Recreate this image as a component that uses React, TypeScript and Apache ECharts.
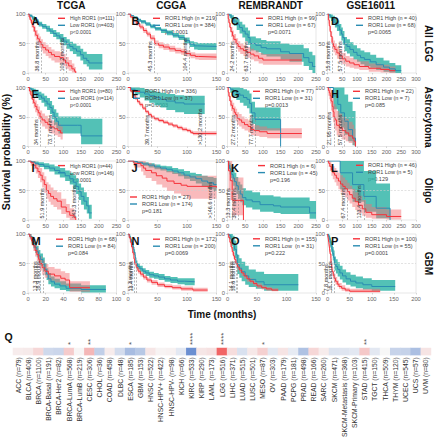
import { useEffect, useRef } from "react";
import * as echarts from "echarts";

type Pt = [number, number, number, number]; // time, survival %, lower CI, upper CI

const FONT = "'Liberation Sans', Arial, Helvetica, sans-serif";

const columnTitles = ["TCGA", "CGGA", "REMBRANDT", "GSE16011"];
const rowTitles = ["All LGG", "Astrocytoma", "Oligo", "GBM"];
const panelLetters = ["A", "B", "C", "D", "E", "F", "G", "H", "I", "J", "K", "L", "M", "N", "O", "P"];
const xMaxes = [250, 150, 250, 300, 250, 150, 250, 300, 250, 150, 250, 300, 100, 150, 150, 200];
const xIntervals = [50, 50, 50, 50, 50, 50, 50, 50, 50, 50, 50, 50, 20, 50, 50, 50];

const highNames = [
  "High ROR1 (n=111)", "ROR1 High (n = 219)", "ROR1 High (n = 99)", "ROR1 High (n = 40)",
  "High ROR1 (n=80)", "ROR1 High (n = 336)", "ROR1 High (n = 77)", "ROR1 High (n = 22)",
  "High ROR1 (n=44)", "ROR1 High (n = 27)", "ROR1 High (n = 6)", "ROR1 High (n = 46)",
  "ROR1 High (n = 68)", "ROR1 High (n = 172)", "ROR1 High (n = 155)", "ROR1 High (n = 100)",
];
const lowNames = [
  "Low ROR1 (n=403)", "ROR1 Low (n = 384)", "ROR1 Low (n = 67)", "ROR1 Low (n = 68)",
  "Low ROR1 (n=114)", "ROR1 Low (n = 37)", "ROR1 Low (n = 31)", "ROR1 Low (n = 7)",
  "Low ROR1 (n=146)", "ROR1 Low (n = 174)", "ROR1 Low (n = 45)", "ROR1 Low (n = 5)",
  "ROR1 Low (n = 84)", "ROR1 Low (n = 200)", "ROR1 Low  (n = 31)", "ROR1 Low (n = 55)",
];
const pValues = [
  "p<0.0001", "p=0.0001", "p=0.0071", "p=0.0065",
  "p<0.0001", "p=0.0003", "p=0.0013", "p=0.085",
  "p<0.0001", "p=0.181", "p=0.196", "p=0.129",
  "p=0.084", "p=0.0069", "p=0.222", "p=0.0001",
];
const highMedians = [36.8, 45.3, 24.2, 15.8, 34, 39.7, 27.2, 21.95, 51.9, null, 13.3, 67.4, 13.3, 11.3, 14.1, 7.8];
const highMedianLabels = [
  "36.8 months", "45.3 months", "24.2 months", "15.8 months",
  "34 months", "39.7 months", "27.2 months", "21.95 months",
  "51.9 months", null, "13.3 months", "67.4 months",
  "13.3 months", "11.3 months", "14.1 months", "7.8 months",
];
const lowMedians = [109.2, 104.4, 63.7, 57.5, 73.7, 130.2, 77.7, 57.5, 143.3, 146.6, 30.4, 123.4, 16.9, 13.4, 16.6, 16.1];
const lowMedianLabels = [
  "109.2 months", "104.4 months", "63.7 months", "57.5 months",
  "73.7 months", ">130.2 months", "77.7 months", "57.5 months",
  "143.3 months", ">146.6 months", "30.4 months", "123.4 months",
  "16.9 months", "13.4 months", "16.6 months", "16.1 months",
];

// ---- Kaplan-Meier curves: [time, survival %, lower CI, upper CI] ----
const aHigh: Pt[] = [[0,100,100,100],[3,95,91,99],[6,90,85,95],[10,84,77,90],[14,78,70,85],[18,71,62,79],[22,64,55,73],[27,58,48,67],[32,53,43,62],[36.8,48,38,57],[42,43,33,52],[50,39,29,48],[58,35,25,44],[66,31,21,40],[75,28,18,37],[90,26,16,35],[100,22,12,32],[106,17,7,27],[115,12,4,22],[124,7,1,16],[131,3,0,10],[135,0,0,0]];
const aLow: Pt[] = [[0,100,100,100],[5,97,95,99],[12,93,90,96],[20,88,85,91],[30,83,79,87],[40,79,75,83],[52,75,70,80],[62,71,66,76],[71,67,61,73],[80,63,57,69],[90,59,52,66],[100,54,47,61],[109.2,49,41,57],[118,45,37,53],[127,41,32,50],[137,37,28,46],[148,31,21,41],[156,25,15,36],[166,21,11,32],[172,17,6,32],[210,17,6,32]];
const bHigh: Pt[] = [[0,100,100,100],[4,95,93,97],[9,89,86,92],[14,84,80,87],[20,78,74,82],[26,72,68,76],[32,66,62,70],[38,59,55,64],[45.3,50,46,55],[52,47,42,52],[60,44,39,49],[70,41,36,46],[80,38,33,43],[90,36,31,41],[98,33,28,38],[106,30,25,35],[114,28,23,33],[120,27,22,33],[150,27,22,33]];
const bLow: Pt[] = [[0,100,100,100],[5,97,96,98],[10,94,92,96],[16,90,87,92],[22,87,84,90],[30,83,80,86],[38,79,76,82],[46,75,72,78],[56,72,68,75],[66,68,64,72],[76,64,60,68],[86,60,56,65],[96,55,50,60],[104.4,49,44,54],[112,46,40,52],[118,45,39,51],[150,45,39,51]];
const cHigh: Pt[] = [[0,100,100,100],[2,92,87,97],[4,85,78,91],[7,77,69,84],[10,70,61,78],[14,63,54,72],[18,57,48,66],[24.2,50,41,59],[30,45,36,54],[36,41,32,50],[45,38,29,47],[55,35,26,44],[65,32,23,41],[75,29,20,38],[88,25,16,34],[100,22,14,32],[210,22,14,32]];
const cLow: Pt[] = [[0,100,100,100],[6,97,93,100],[12,92,86,98],[18,88,80,95],[26,82,73,91],[34,77,67,87],[42,71,60,82],[50,66,54,77],[58,60,48,72],[63.7,50,38,62],[80,47,35,59],[95,43,31,56],[110,41,28,54],[150,36,23,50],[175,33,19,48],[215,26,12,42],[230,18,5,36],[240,11,0,30],[248,11,0,30]];
const dHigh: Pt[] = [[0,100,100,100],[3,90,84,96],[6,80,72,88],[9,70,61,79],[12,62,52,71],[15.8,50,40,60],[20,45,35,55],[25,40,30,50],[32,34,24,44],[40,29,19,39],[50,24,15,34],[62,20,11,29],[75,17,9,26],[90,14,7,23],[108,11,5,20],[140,8,2,16],[180,6,1,14],[210,4,0,11],[230,4,0,11]];
const dLow: Pt[] = [[0,100,100,100],[6,97,93,100],[12,94,88,99],[18,91,84,97],[25,85,77,93],[32,80,71,89],[40,73,63,83],[47,66,55,77],[52,60,48,71],[57.5,49,37,61],[66,45,33,57],[76,40,28,52],[88,35,23,47],[100,30,19,42],[112,26,15,38],[125,23,12,35],[145,19,9,31],[165,14,5,26],[190,10,2,21],[210,7,1,17],[230,4,0,13],[250,4,0,13]];
const eHigh: Pt[] = [[0,100,100,100],[4,94,89,99],[8,87,80,94],[12,80,72,88],[16,74,65,83],[20,68,58,78],[25,62,52,72],[29,57,46,68],[34,50,39,61],[40,45,34,56],[48,41,30,52],[56,37,26,48],[64,33,22,44],[74,30,19,41],[84,27,16,38],[92,23,12,34],[98,23,12,34]];
const eLow: Pt[] = [[0,100,100,100],[5,98,95,100],[10,96,92,99],[16,93,88,98],[22,90,84,96],[30,86,79,93],[38,82,74,90],[46,77,68,86],[54,72,62,82],[62,66,55,77],[68,58,46,70],[73.7,50,37,63],[80,43,30,57],[86,36,22,51],[140,36,22,51],[150,18,4,47],[210,18,4,47]];
const fHigh: Pt[] = [[0,100,100,100],[4,94,92,96],[8,88,86,90],[12,82,79,85],[16,76,73,79],[20,71,68,74],[25,65,62,68],[30,59,56,62],[35,54,51,57],[39.7,50,47,53],[45,47,44,50],[52,44,41,47],[60,41,38,44],[68,38,35,41],[76,35,32,38],[84,32,29,35],[92,29,26,32],[100,27,24,30],[106,24,21,27],[110,22,19,26],[150,22,19,26]];
const fLow: Pt[] = [[0,100,100,100],[5,97,92,100],[12,95,88,100],[20,92,83,99],[28,89,78,97],[36,86,74,95],[45,83,70,93],[55,80,66,91],[65,77,62,89],[80,74,58,87],[95,72,55,86],[130,72,55,86]];
const gHigh: Pt[] = [[0,100,100,100],[2,92,86,98],[4,85,77,92],[7,77,68,86],[10,70,60,79],[14,64,54,74],[19,58,47,68],[23,54,43,64],[27.2,48,37,58],[33,45,34,55],[40,41,30,51],[48,37,27,47],[58,34,24,44],[66,29,19,39],[75,27,18,36],[90,25,16,34],[112,22,14,31],[210,22,14,31]];
const gLow: Pt[] = [[0,100,100,100],[8,97,91,100],[16,94,85,100],[25,90,79,100],[35,87,74,99],[45,83,69,97],[55,80,65,95],[62,73,56,90],[68,57,38,76],[77.7,46,27,66],[150,0,0,0]];
const hHigh: Pt[] = [[0,100,100,100],[3,95,86,100],[6,91,80,100],[9,86,73,100],[12,77,61,95],[16,68,50,89],[19,59,41,82],[21.95,50,31,72],[26,45,27,68],[31,36,19,60],[40,32,16,56],[50,27,12,51],[62,23,9,47],[72,18,6,42],[85,14,3,37],[90,9,1,30],[95,0,0,0]];
const hLow: Pt[] = [[0,100,100,100],[20,85.7,63,100],[35,71.4,45,100],[45,57.1,32,100],[57.5,42.9,20,88],[70,28.6,9,76],[85,14.3,2,60],[95,0,0,0]];
const iHigh: Pt[] = [[0,100,100,100],[8,97,92,100],[15,93,86,100],[22,88,79,97],[28,82,71,93],[34,76,64,88],[40,68,55,81],[46,60,46,74],[51.9,50,36,64],[58,45,31,60],[64,40,26,55],[72,36,22,51],[82,32,18,47],[94,22,10,36],[108,14,4,27],[118,8,0,20],[130,4,0,14],[135,0,0,0]];
const iLow: Pt[] = [[0,100,100,100],[10,98,96,100],[20,96,93,99],[30,94,90,98],[45,91,86,96],[60,88,82,94],[75,84,77,91],[90,80,72,88],[105,75,66,84],[118,70,60,80],[128,64,52,76],[136,57,44,70],[143.3,48,34,62],[150,40,26,55],[158,32,18,47],[166,24,11,39],[172,12,2,26],[180,12,2,26]];
const jHigh: Pt[] = [[0,100,100,100],[10,96,89,100],[22,92,82,100],[26,88,76,100],[30,84,71,97],[40,80,66,94],[48,75,60,90],[58,71,55,87],[66,66,49,83],[78,62,45,80],[90,59,41,77],[100,57,36,75],[150,55,30,74]];
const jLow: Pt[] = [[0,100,100,100],[8,99,97,100],[16,97,95,99],[25,95,92,98],[35,93,89,96],[45,90,86,94],[55,88,84,92],[65,86,81,91],[75,83,78,88],[85,80,74,86],[95,76,70,83],[105,73,66,80],[115,70,62,78],[125,66,57,75],[135,63,53,73],[145,60,49,71],[150,60,49,71]];
const kHigh: Pt[] = [[0,100,100,100],[3,83.3,50,100],[8,66.7,34,100],[13.3,33.3,8,72],[45,0,0,0]];
const kLow: Pt[] = [[0,100,100,100],[3,93,86,100],[6,87,77,97],[9,82,71,93],[12,77,65,90],[16,71,58,85],[20,65,52,80],[25,58,44,73],[30.4,50,36,65],[36,44,30,60],[42,38,25,54],[52,34,21,50],[70,31,18,47],[92,26,14,42],[130,24,12,40],[150,22,10,38],[232,12,2,32],[250,12,2,32]];
const lHigh: Pt[] = [[0,100,100,100],[4,96,90,100],[8,91,83,99],[13,85,75,95],[18,80,69,91],[24,76,64,88],[30,71,58,84],[37,66,52,80],[44,61,47,76],[52,57,42,72],[60,53,38,68],[67.4,48,33,63],[75,43,28,58],[84,37,22,53],[94,31,17,47],[105,25,12,41],[118,19,7,34],[130,13,4,27],[150,9,2,22],[200,6,1,18],[250,6,1,18]];
const lLow: Pt[] = [[0,100,100,100],[43,80,52,100],[85,60,31,100],[123.4,40,14,83],[165,20,3,62],[212,0,0,0]];
const mHigh: Pt[] = [[0,100,100,100],[2,95,90,100],[4,88,81,95],[6,80,71,89],[8,72,62,82],[10,65,54,76],[12,57,45,69],[13.3,50,38,62],[16,43,31,55],[19,37,26,49],[23,32,21,44],[30,29,18,41],[37,25,14,37],[42,22,12,34],[47,9,2,20],[70,9,2,20]];
const mLow: Pt[] = [[0,100,100,100],[2,96,92,100],[4,90,84,96],[6,84,76,92],[8,77,68,86],[10,70,60,80],[12,63,53,73],[14,57,46,67],[16.9,49,38,60],[19,40,30,51],[21,32,22,42],[23,24,15,34],[26,19,11,28],[30,15,8,24],[36,12,5,20],[43,8,3,16],[60,6,1,13],[88,6,1,13]];
const nHigh: Pt[] = [[0,100,100,100],[2,94,91,97],[4,86,82,90],[6,78,74,82],[8,68,64,72],[10,58,54,62],[11.3,50,46,54],[14,43,39,47],[17,37,33,41],[21,32,28,36],[26,27,23,31],[32,22,18,26],[40,18,14,22],[50,14,10,18],[62,11,8,15],[75,9,6,13],[90,7,4,11],[110,5,2,9],[135,5,2,9]];
const nLow: Pt[] = [[0,100,100,100],[2,96,93,99],[4,91,87,94],[6,85,81,89],[8,78,73,82],[10,69,64,74],[12,60,55,65],[13.4,50,45,55],[16,45,40,50],[20,41,36,46],[25,37,32,42],[30,34,29,39],[36,31,26,36],[44,29,24,34],[52,27,22,32],[62,24,19,29],[72,22,17,27],[84,20,15,25],[96,19,13,25],[113,19,13,25]];
const oHigh: Pt[] = [[0,100,100,100],[2,94,91,97],[4,86,82,90],[6,78,74,83],[8,70,65,75],[10,63,58,68],[12,57,52,62],[14.1,50,45,55],[17,44,39,49],[20,39,34,44],[24,34,29,39],[28,29,24,34],[33,24,19,29],[38,20,16,25],[44,16,12,20],[50,12,8,16],[58,9,6,13],[66,7,4,10],[75,5,3,8],[86,4,2,7]];
const oLow: Pt[] = [[0,100,100,100],[3,97,91,100],[6,90,80,100],[9,84,71,97],[12,74,59,89],[15,65,49,81],[16.6,48,32,65],[20,42,26,59],[24,36,20,53],[30,29,14,46],[36,23,10,40],[48,19,7,36],[62,14,4,32],[120,14,4,32]];
const pHigh: Pt[] = [[0,100,100,100],[1.5,93,88,98],[3,85,79,91],[4.5,76,69,83],[6,66,59,74],[7.8,50,43,58],[9.5,43,36,51],[11,36,29,44],[13,30,23,37],[15,25,18,32],[18,20,14,27],[22,15,10,21],[26,11,7,17],[32,8,4,13],[40,5,2,9],[50,3,1,7],[119,3,1,7]];
const pLow: Pt[] = [[0,100,100,100],[2,96,91,100],[4,91,84,98],[6,86,77,94],[8,80,70,89],[10,74,63,84],[12,67,55,78],[14,60,48,72],[16.1,50,38,62],[19,45,33,57],[23,40,28,52],[28,34,23,46],[34,29,18,40],[42,24,14,35],[52,20,11,31],[64,17,8,28],[80,14,6,25],[100,11,4,22],[153,11,4,22]];

const highCurves = [aHigh, bHigh, cHigh, dHigh, eHigh, fHigh, gHigh, hHigh, iHigh, jHigh, kHigh, lHigh, mHigh, nHigh, oHigh, pHigh];
const lowCurves = [aLow, bLow, cLow, dLow, eLow, fLow, gLow, hLow, iLow, jLow, kLow, lLow, mLow, nLow, oLow, pLow];

// ---- Pan-cancer heatmap (Q) ----
const cancerTypes = ["ACC", "BLCA", "BRCA", "BRCA-Basal", "BRCA-Her2", "BRCA-LumA", "BRCA-LumB", "CESC", "CHOL", "COAD", "DLBC", "ESCA", "GBM", "HNSC", "HNSC-HPV+", "HNSC-HPV-", "KICH", "KIRC", "KIRP", "LAML", "LGG", "LIHC", "LUAD", "LUSC", "MESO", "OV", "PAAD", "PCPG", "PRAD", "READ", "SARC", "SKCM", "SKCM-Metastasis", "SKCM-Primary", "STAD", "TGCT", "THCA", "THYM", "UCEC", "UCS", "UVM"];
const cancerN = [79, 408, 1100, 191, 82, 568, 219, 306, 36, 458, 48, 185, 153, 522, 422, 98, 66, 533, 290, 173, 516, 371, 515, 501, 87, 303, 179, 181, 498, 166, 260, 471, 368, 103, 415, 150, 509, 120, 545, 57, 80];
const logHR = [0.05, 0.06, 0.15, -0.2, -0.22, 0.2, 0.01, 0.3, -0.27, 0.05, -0.18, -0.4, -0.32, 0.08, 0.02, 0.03, -0.1, -0.7, 0.08, 0.1, 0.68, 0.12, -0.15, 0.07, 0.18, -0.1, 0.09, -0.08, -0.36, 0.15, 0.05, -0.13, -0.12, -0.1, 0.22, -0.1, 0.0, -0.24, -0.25, -0.38, 0.09];
const significance = ["", "", "", "", "", "*", "", "**", "", "", "", "*", "", "", "", "", "", "****", "", "", "****", "", "", "", "*", "", "", "", "", "", "", "", "", "", "**", "", "", "", "", "", ""];

// ---- layout ----
const colLefts = [28, 128, 227.5, 327.5];
const rowTops = [14, 87.5, 161, 234];
const PW = 88.5;
const PH = 59;
const legendOffsets = [30, 25, 28.5, 28.5, 30, 5, 25.5, 25.5, 30, 2, 30.5, 28.5, 28, 25, 25.5, 25.5];
const legendTopOffsets = [4.3, 4.3, 4.3, 4.3, 3.8, 3.8, 3.8, 3.8, 4.6, 36, 4.6, 4.3, 5.2, 5.2, 4.8, 4.8];
const legendFontSizes = [5.1, 5.5, 5.5, 5.5, 5.1, 5.5, 5.5, 5.5, 5.1, 5.5, 5.5, 5.5, 5.5, 5.5, 5.5, 5.5];

const RED_LINE = "#f6323a";
const RED_BAND = "rgba(242, 110, 115, 0.48)";
const TEAL_LINE = "#2a8cb2";
const TEAL_BAND = "rgba(40, 178, 164, 0.8)";

function bandSeries(curve: Pt[], idx: number, fill: string) {
  return {
    type: "custom",
    xAxisIndex: idx,
    yAxisIndex: idx,
    silent: true,
    z: 1,
    data: curve.map((p) => [p[0], p[1]]),
    encode: { x: 0, y: 1 },
    renderItem: (params: any, api: any) => {
      if (params.dataIndex !== 0) return null;
      const pts: number[][] = [];
      for (let k = 0; k < curve.length; k++) {
        const tn = k < curve.length - 1 ? curve[k + 1][0] : curve[k][0];
        pts.push(api.coord([curve[k][0], curve[k][3]]));
        pts.push(api.coord([tn, curve[k][3]]));
      }
      for (let k = curve.length - 1; k >= 0; k--) {
        const tn = k < curve.length - 1 ? curve[k + 1][0] : curve[k][0];
        pts.push(api.coord([tn, curve[k][2]]));
        pts.push(api.coord([curve[k][0], curve[k][2]]));
      }
      return { type: "polygon", shape: { points: pts }, style: { fill } };
    },
  };
}

function medianLine(t: number, label: string) {
  return [
    {
      coord: [t, 0],
      label: {
        show: true,
        formatter: label,
        position: "insideStartTop",
        fontSize: 5.5,
        color: "#333",
        distance: 1.5,
        fontFamily: FONT,
      },
      lineStyle: { color: "#8c8c8c", type: [2, 1.5], width: 0.6 },
    },
    { coord: [t, 50] },
  ];
}

function buildOption() {
  const grid: any[] = [];
  const xAxis: any[] = [];
  const yAxis: any[] = [];
  const series: any[] = [];
  const legend: any[] = [];
  const graphic: any[] = [];
  const tickLabel = { fontSize: 5.8, color: "#666", fontFamily: FONT };

  for (let i = 0; i < 16; i++) {
    const r = Math.floor(i / 4);
    const c = i % 4;
    const left = colLefts[c];
    const top = rowTops[r];
    grid.push({ left, top, width: PW, height: PH, show: true, borderColor: "#d6d6d6", borderWidth: 0.6 });
    xAxis.push({
      type: "value", gridIndex: i, min: 0, max: xMaxes[i], interval: xIntervals[i],
      axisLine: { show: false },
      axisTick: { show: true, length: 1.5, lineStyle: { color: "#aaa", width: 0.5 } },
      splitLine: { show: false },
      axisLabel: { ...tickLabel, margin: 2.5 },
    });
    yAxis.push({
      type: "value", gridIndex: i, min: 0, max: 100, interval: 50,
      axisLine: { show: false },
      axisTick: { show: true, length: 1.5, lineStyle: { color: "#aaa", width: 0.5 } },
      splitLine: { show: false },
      axisLabel: { ...tickLabel, margin: 2.5 },
    });

    series.push(bandSeries(lowCurves[i], i, TEAL_BAND));
    series.push(bandSeries(highCurves[i], i, RED_BAND));

    const mlData: any[] = [
      { yAxis: 50, lineStyle: { color: "#cfcfcf", type: [2, 1.5], width: 0.6 }, label: { show: false } },
    ];
    if (highMedians[i] !== null) mlData.push(medianLine(highMedians[i] as number, highMedianLabels[i] as string));
    mlData.push(medianLine(lowMedians[i], lowMedianLabels[i]));

    series.push({
      type: "line", name: lowNames[i], xAxisIndex: i, yAxisIndex: i,
      data: lowCurves[i].map((p) => [p[0], p[1]]),
      step: "end", symbol: "none", showSymbol: false, z: 3,
      lineStyle: { color: TEAL_LINE, width: 1 }, itemStyle: { color: TEAL_LINE },
    });
    series.push({
      type: "line", name: highNames[i], xAxisIndex: i, yAxisIndex: i,
      data: highCurves[i].map((p) => [p[0], p[1]]),
      step: "end", symbol: "none", showSymbol: false, z: 3,
      lineStyle: { color: RED_LINE, width: 1 }, itemStyle: { color: RED_LINE },
      markLine: { silent: true, symbol: "none", animation: false, label: { show: false }, data: mlData },
    });

    const legLeft = left + legendOffsets[i];
    const legCenter = top + legendTopOffsets[i];
    legend.push({
      data: [highNames[i], lowNames[i]],
      orient: "vertical", left: legLeft, top: legCenter - 3.5,
      itemWidth: 7, itemHeight: 1.4, itemGap: 0, icon: "rect", padding: 0,
      selectedMode: false,
      textStyle: { fontSize: legendFontSizes[i], color: "#444", fontFamily: FONT, lineHeight: 7 },
    });
    graphic.push({
      type: "text", x: legLeft + 12, y: legCenter + 14,
      style: { text: pValues[i], fontSize: legendFontSizes[i], fill: "#444", fontFamily: FONT, verticalAlign: "middle", align: "left" },
    });
    graphic.push({
      type: "text", x: left + 3.5, y: top + 6.5, z: 10,
      style: { text: panelLetters[i], fontSize: 11, fontWeight: "bold", fill: "#111", fontFamily: FONT, verticalAlign: "middle", align: "left" },
    });
  }

  // column and row titles
  columnTitles.forEach((t, c) => {
    graphic.push({
      type: "text", x: colLefts[c] + PW / 2 - 1, y: 5.5,
      style: { text: t, fontSize: 10, fontWeight: "bold", fill: "#111", fontFamily: FONT, align: "center", verticalAlign: "middle" },
    });
  });
  rowTitles.forEach((t, r) => {
    graphic.push({
      type: "text", x: 428.5, y: rowTops[r] + PH / 2, rotation: -Math.PI / 2,
      style: { text: t, fontSize: 10, fontWeight: "bold", fill: "#111", fontFamily: FONT, align: "center", verticalAlign: "middle" },
    });
  });
  graphic.push({
    type: "text", x: 5.5, y: 152, rotation: Math.PI / 2,
    style: { text: "Survival probability (%)", fontSize: 10.5, fontWeight: "bold", fill: "#111", fontFamily: FONT, align: "center", verticalAlign: "middle" },
  });
  graphic.push({
    type: "text", x: 222, y: 314,
    style: { text: "Time (months)", fontSize: 10, fontWeight: "bold", fill: "#111", fontFamily: FONT, align: "center", verticalAlign: "middle" },
  });
  graphic.push({
    type: "text", x: 4.5, y: 337,
    style: { text: "Q", fontSize: 10.5, fontWeight: "bold", fill: "#111", fontFamily: FONT, align: "left", verticalAlign: "middle" },
  });

  // heatmap
  const hIdx = 16;
  grid.push({ left: 13, top: 348, width: 418, height: 10 });
  xAxis.push({
    type: "category", gridIndex: hIdx,
    data: cancerTypes.map((t, k) => `${t} (n=${cancerN[k]})`),
    axisLine: { show: false }, axisTick: { show: false }, splitLine: { show: false },
    axisLabel: { interval: 0, rotate: 90, fontSize: 6.8, color: "#333", margin: 2, fontFamily: FONT },
  });
  yAxis.push({ type: "category", gridIndex: hIdx, data: ["HR"], show: false });
  const heatSeriesIndex = series.length;
  series.push({
    type: "heatmap", xAxisIndex: hIdx, yAxisIndex: hIdx,
    data: logHR.map((v, k) => [k, 0, v]),
    itemStyle: { borderWidth: 0 },
    label: { show: false },
  });
  series.push({
    type: "scatter", xAxisIndex: hIdx, yAxisIndex: hIdx, silent: true,
    symbol: "rect", symbolSize: [10, 10],
    itemStyle: { color: "rgba(0,0,0,0)" },
    data: significance
      .map((s, k) => ({ s, k }))
      .filter((d) => d.s !== "")
      .map((d) => ({ value: [d.k, 0], label: { formatter: d.s } })),
    label: {
      show: true, position: [6.5, -1.5], rotate: 90, align: "left", verticalAlign: "middle",
      fontSize: 8, color: "#222", fontFamily: FONT,
    },
    z: 5,
  });

  return {
    animation: false,
    backgroundColor: "#ffffff",
    textStyle: { fontFamily: FONT },
    grid, xAxis, yAxis, series, legend, graphic,
    visualMap: {
      type: "continuous", show: false, seriesIndex: heatSeriesIndex, dimension: 2,
      min: -1, max: 1,
      inRange: { color: ["#2f63c0", "#f7f7f7", "#ee2020"] },
    },
  };
}

export default function App() {
  const ref = useRef<HTMLDivElement>(null);
  useEffect(() => {
    if (!ref.current) return;
    const chart = echarts.init(ref.current, undefined, { renderer: "svg" });
    chart.setOption(buildOption() as any);
    return () => chart.dispose();
  }, []);
  return (
    <div
      ref={ref}
      style={{ position: "fixed", left: 0, top: 0, width: 434, height: 440, background: "#fff" }}
    />
  );
}
